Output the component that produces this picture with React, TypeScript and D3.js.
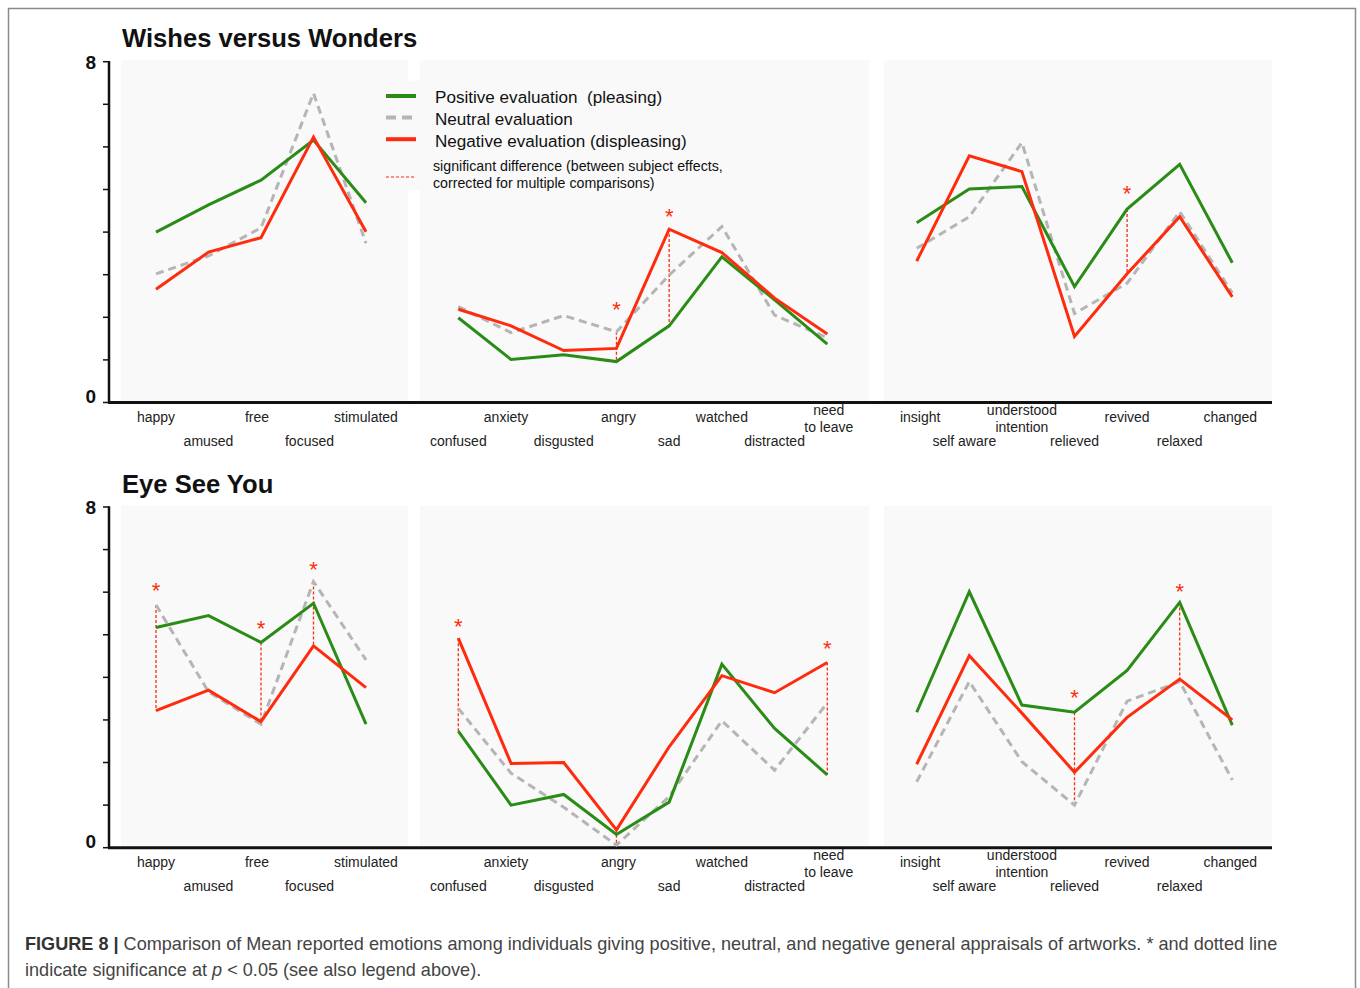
import React from "react";
import * as d3 from "d3";

const W = 1360;
const H = 988;

// Emotion categories, one list per panel ("\n" splits a label over two lines)
const baseEmotions = ["happy", "amused", "free", "focused", "stimulated"];
const negativeEmotions = ["confused", "anxiety", "disgusted", "angry", "sad", "watched", "distracted", "need\nto leave"];
const reflectiveEmotions = ["insight", "self aware", "understood\nintention", "relieved", "revived", "relaxed", "changed"];

const yTicks = [0, 1, 2, 3, 4, 5, 6, 7, 8];
const yTickLabels = [0, 8];

// Wishes versus Wonders — mean ratings per panel
const wishesPositive = [
  [4.0, 4.64, 5.22, 6.16, 4.69],
  [1.99, 1.01, 1.12, 0.96, 1.8, 3.42, 2.41, 1.37],
  [4.22, 5.01, 5.07, 2.72, 4.54, 5.59, 3.28],
];
const wishesNeutral = [
  [3.02, 3.44, 4.1, 7.26, 3.74],
  [2.25, 1.64, 2.04, 1.66, 2.99, 4.13, 2.05, 1.52],
  [3.62, 4.36, 6.1, 2.09, 2.8, 4.48, 2.57],
];
const wishesNegative = [
  [2.66, 3.53, 3.87, 6.23, 4.01],
  [2.19, 1.8, 1.22, 1.27, 4.07, 3.52, 2.45, 1.61],
  [3.32, 5.79, 5.42, 1.55, 3.02, 4.36, 2.48],
];
// significant differences: panel, category index, the two series joined, asterisk height
const wishesSig = [
  { panel: 1, idx: 3, from: "neutral", to: "positive", star: 2.29 },
  { panel: 1, idx: 4, from: "negative", to: "positive", star: 4.48 },
  { panel: 2, idx: 4, from: "positive", to: "negative", star: 5.01 },
];

// Eye See You — mean ratings per panel
const eyePositive = [
  [5.17, 5.45, 4.82, 5.74, 2.9],
  [2.74, 1.0, 1.25, 0.31, 1.07, 4.31, 2.8, 1.71],
  [3.18, 6.01, 3.35, 3.18, 4.16, 5.76, 2.88],
];
const eyeNeutral = [
  [5.7, 3.66, 2.9, 6.25, 4.41],
  [3.27, 1.75, 0.95, 0.06, 1.2, 2.98, 1.82, 3.4],
  [1.55, 3.9, 2.02, 1.0, 3.44, 3.9, 1.59],
];
const eyeNegative = [
  [3.22, 3.7, 2.96, 4.74, 3.76],
  [4.92, 1.98, 2.0, 0.42, 2.37, 4.04, 3.64, 4.35],
  [1.96, 4.51, 3.16, 1.77, 3.06, 3.96, 3.0],
];
const eyeSig = [
  { panel: 0, idx: 0, from: "neutral", to: "negative", star: 6.14 },
  { panel: 0, idx: 2, from: "positive", to: "negative", star: 5.25 },
  { panel: 0, idx: 3, from: "neutral", to: "negative", star: 6.64 },
  { panel: 1, idx: 0, from: "negative", to: "positive", star: 5.29 },
  { panel: 1, idx: 3, from: "negative", to: "neutral", star: null },
  { panel: 1, idx: 7, from: "negative", to: "positive", star: 4.78 },
  { panel: 2, idx: 3, from: "positive", to: "neutral", star: 3.63 },
  { panel: 2, idx: 5, from: "positive", to: "negative", star: 6.11 },
];

const FONT = "'Liberation Sans', Arial, Helvetica, sans-serif";
const GREEN = "#2a8c17";
const GRAY = "#b5b5b5";
const RED = "#ff2b0d";
const PANEL_FILL = "#f9f9f9";

type SeriesKey = "positive" | "neutral" | "negative";

const panelLayout = [
  { cats: baseEmotions, range: [156, 366], bg: [121, 408], evenRow: 0 },
  { cats: negativeEmotions, range: [458.3, 827.3], bg: [420, 869], evenRow: 1 },
  { cats: reflectiveEmotions, range: [916.7, 1232.3], bg: [884, 1272], evenRow: 0 },
];

// small horizontal shifts of some category labels relative to their point
const labelNudge: Record<string, number> = {
  anxiety: -5,
  free: -4,
  focused: -4,
  "self aware": -5,
  insight: 3.5,
  angry: 2,
  changed: -2,
  "need\nto leave": 1.5,
};

const xScales = panelLayout.map((p) =>
  d3.scalePoint<string>().domain(p.cats).range(p.range as [number, number])
);

interface ChartProps {
  title: string;
  top: number; // pixel y of the value 8
  bottom: number; // pixel y of the value 0
  positive: number[][];
  neutral: number[][];
  negative: number[][];
  sig: { panel: number; idx: number; from: string; to: string; star: number | null }[];
  legend?: boolean;
}

function Chart({ title, top, bottom, positive, neutral, negative, sig, legend }: ChartProps) {
  const y = d3.scaleLinear().domain([0, 8]).range([bottom, top]);
  const seriesMap: Record<SeriesKey, number[][]> = { positive, neutral, negative };
  const axisX = 109;

  const series: { key: SeriesKey; color: string; dash?: string }[] = [
    { key: "neutral", color: GRAY, dash: "8,5" },
    { key: "positive", color: GREEN },
    { key: "negative", color: RED },
  ];

  return (
    <g>
      <text x={122} y={top - 14.5} fontFamily={FONT} fontWeight="bold" fontSize={25.6} fill="#111">
        {title}
      </text>

      {/* panel backgrounds */}
      {panelLayout.map((p, i) => (
        <rect key={i} x={p.bg[0]} y={top - 1.5} width={p.bg[1] - p.bg[0]} height={bottom - top + 1.5} fill={PANEL_FILL} />
      ))}
      {legend && <rect x={400} y={top + 19} width={345} height={110} fill={PANEL_FILL} />}

      {/* y axis */}
      {yTicks.map((t) => (
        <line key={t} x1={axisX - 6} x2={axisX} y1={y(t)} y2={y(t)} stroke="#111" strokeWidth={1.5} />
      ))}
      <line x1={axisX} x2={axisX} y1={y(8) - 0.8} y2={y(0)} stroke="#111" strokeWidth={2.5} />
      {yTickLabels.map((t) => (
        <text
          key={t}
          x={96}
          y={t === 8 ? y(t) + 6.8 : y(t) + 0.5}
          textAnchor="end"
          fontFamily={FONT}
          fontWeight="bold"
          fontSize={19}
          fill="#111"
        >
          {t}
        </text>
      ))}
      <line x1={axisX - 1} x2={1272} y1={y(0)} y2={y(0)} stroke="#111" strokeWidth={3} />

      {/* category labels, alternating between two rows */}
      {panelLayout.map((p, pi) =>
        p.cats.map((c, ci) => {
          const lines = c.split("\n");
          const row = (ci + p.evenRow) % 2;
          const x = (xScales[pi](c) as number) + (labelNudge[c] || 0);
          if (lines.length > 1) {
            return (
              <text key={pi + "-" + ci} textAnchor="middle" fontFamily={FONT} fontSize={14} fill="#222">
                <tspan x={x} y={y(0) + 12.5}>{lines[0]}</tspan>
                <tspan x={x} y={y(0) + 29.5}>{lines[1]}</tspan>
              </text>
            );
          }
          return (
            <text
              key={pi + "-" + ci}
              x={x}
              y={y(0) + (row === 0 ? 19 : 43.5)}
              textAnchor="middle"
              fontFamily={FONT}
              fontSize={14}
              fill="#222"
            >
              {c}
            </text>
          );
        })
      )}

      {/* significance markers */}
      {sig.map((s, i) => {
        const cat = panelLayout[s.panel].cats[s.idx];
        const x = xScales[s.panel](cat) as number;
        const a = seriesMap[s.from as SeriesKey][s.panel][s.idx];
        const b = seriesMap[s.to as SeriesKey][s.panel][s.idx];
        return (
          <g key={i}>
            <line x1={x} x2={x} y1={y(a)} y2={y(b)} stroke={RED} strokeWidth={1.3} strokeDasharray="3,2" />
            {s.star !== null && (
              <text x={x} y={y(s.star) + 12} textAnchor="middle" fontFamily={FONT} fontSize={22} fill={RED}>
                *
              </text>
            )}
          </g>
        );
      })}

      {/* data lines */}
      {series.map((s) =>
        panelLayout.map((p, pi) => {
          const vals = seriesMap[s.key][pi];
          const line = d3
            .line<number>()
            .x((_, i) => xScales[pi](p.cats[i]) as number)
            .y((v) => y(v));
          return (
            <path
              key={s.key + pi}
              d={line(vals) || ""}
              fill="none"
              stroke={s.color}
              strokeWidth={3}
              strokeDasharray={s.dash}
              strokeLinejoin="miter"
            />
          );
        })
      )}
    </g>
  );
}

const legendItems = [
  { label: "Positive evaluation  (pleasing)", color: GREEN, dash: undefined as string | undefined },
  { label: "Neutral evaluation", color: GRAY, dash: "10,6" },
  { label: "Negative evaluation (displeasing)", color: RED, dash: undefined },
];

function Legend() {
  return (
    <g fontFamily={FONT}>
      {legendItems.map((d, i) => (
        <g key={d.label}>
          <line x1={386} x2={416} y1={96 + i * 21.6} y2={96 + i * 21.6} stroke={d.color} strokeWidth={4} strokeDasharray={d.dash} />
          <text x={435} y={102.5 + i * 22} fontSize={17.1} fill="#111" style={{ whiteSpace: "pre" }}>
            {d.label}
          </text>
        </g>
      ))}
      <line x1={386} x2={416} y1={177} y2={177} stroke={RED} strokeWidth={1.2} strokeDasharray="3,2" />
      <text x={433} y={170.5} fontSize={14.2} fill="#111">
        significant difference (between subject effects,
      </text>
      <text x={433} y={187.5} fontSize={14.2} fill="#111">
        corrected for multiple comparisons)
      </text>
    </g>
  );
}

export default function App() {
  return (
    <svg
      width={W}
      height={H}
      viewBox={`0 0 ${W} ${H}`}
      style={{ position: "absolute", left: 0, top: 0, display: "block", background: "#fff" }}
    >
      <rect x={8.5} y={8.5} width={1347} height={H + 20} fill="#fff" stroke="#8a8a8a" strokeWidth={1.5} />
      <Chart
        title="Wishes versus Wonders"
        top={61.7}
        bottom={402.5}
        positive={wishesPositive}
        neutral={wishesNeutral}
        negative={wishesNegative}
        sig={wishesSig}
        legend
      />
      <Legend />
      <Chart
        title="Eye See You"
        top={507}
        bottom={847.7}
        positive={eyePositive}
        neutral={eyeNeutral}
        negative={eyeNegative}
        sig={eyeSig}
      />
      <g fontFamily={FONT} fontSize={18.1} fill="#444">
        <text x={25} y={949.5}>
          <tspan fontWeight="bold" fill="#333">FIGURE 8 | </tspan>
          <tspan>
            Comparison of Mean reported emotions among individuals giving positive, neutral, and negative general appraisals of artworks. * and dotted line
          </tspan>
        </text>
        <text x={25} y={975.5}>
          <tspan>indicate significance at </tspan>
          <tspan fontStyle="italic">p</tspan>
          <tspan> {"<"} 0.05 (see also legend above).</tspan>
        </text>
      </g>
    </svg>
  );
}
